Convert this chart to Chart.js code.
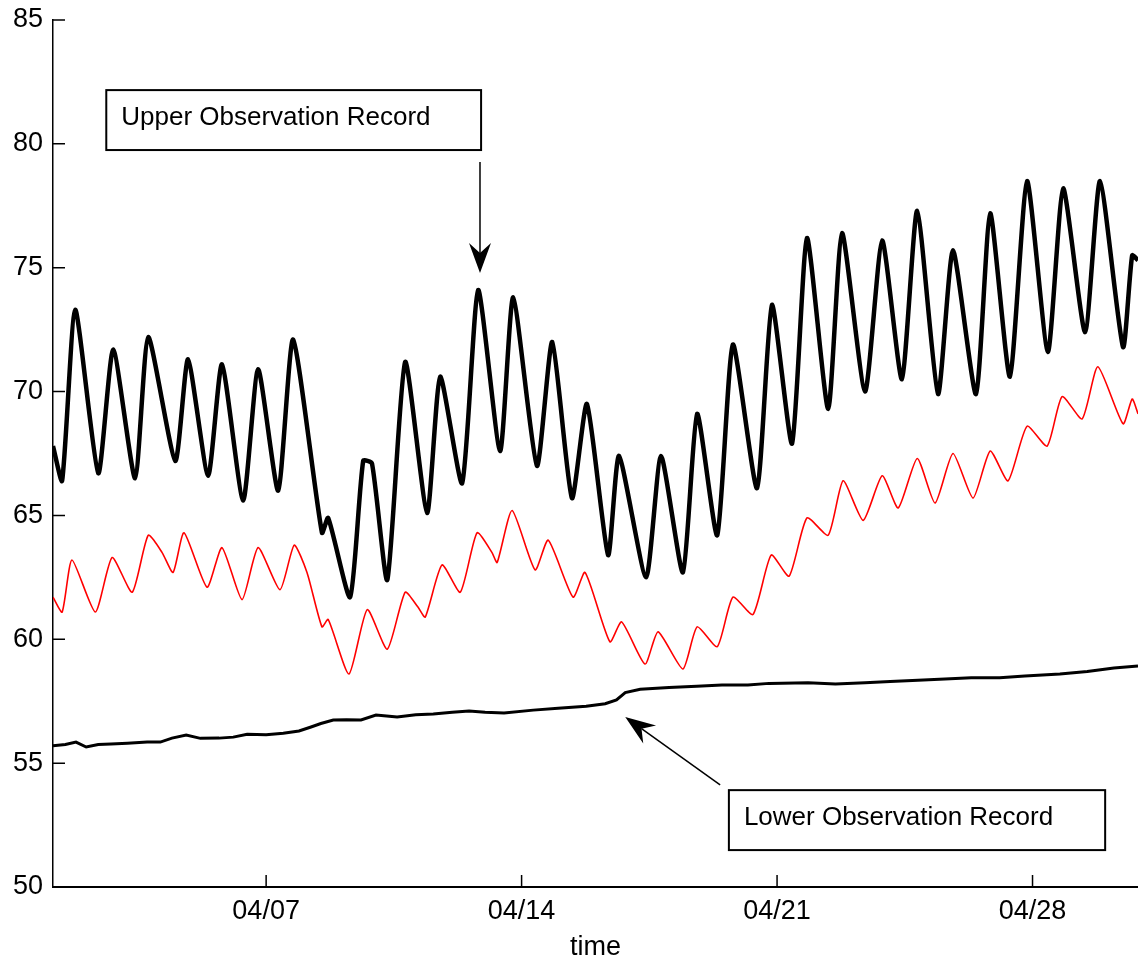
<!DOCTYPE html>
<html>
<head>
<meta charset="utf-8">
<script src="https://cdn.jsdelivr.net/npm/chart.js"></script>
<style>
  body { margin: 0; background: #fff; }
  #wrap { width: 1138px; height: 960px; }
</style>
</head>
<body>
<div id="wrap"><canvas id="myChart" width="1138" height="960"></canvas></div>
<script>
// x values are days of April
var upperDays = [1.16, 1.41, 1.77, 2.40, 2.81, 3.41, 3.77, 4.51, 4.86, 5.41, 5.79, 6.37, 6.78, 7.33, 7.74,
    8.53, 8.70, 9.30, 9.66, 9.90, 10.32, 10.81, 11.41, 11.77, 12.37, 12.81, 13.41, 13.77, 14.42, 14.84,
    15.38, 15.79, 16.37, 16.67, 17.41, 17.82, 18.42, 18.81, 19.36, 19.79, 20.45, 20.86, 21.41, 21.82, 22.40,
    22.78, 23.41, 23.88, 24.42, 24.84, 25.41, 25.82, 26.45, 26.84, 27.38, 27.85, 28.42, 28.84, 29.44, 29.85,
    30.48, 30.73, 30.89];
var upperTemp = [67.8, 66.4, 73.3, 66.7, 71.7, 66.5, 72.2, 67.2, 71.3, 66.6, 71.1, 65.6, 70.9, 66.0, 72.1,
    64.3, 64.9, 61.7, 67.2, 67.1, 62.4, 71.2, 65.1, 70.6, 66.3, 74.1, 67.6, 73.8, 67.0, 72.0,
    65.7, 69.5, 63.4, 67.4, 62.5, 67.4, 62.7, 69.1, 64.2, 71.9, 66.1, 73.5, 67.9, 76.2, 69.3,
    76.4, 70.0, 76.1, 70.5, 77.3, 69.9, 75.7, 69.9, 77.2, 70.6, 78.5, 71.6, 78.2, 72.4, 78.5,
    71.8, 75.5, 75.3];

var redDays = [1.16, 1.41, 1.68, 2.32, 2.78, 3.33, 3.77, 4.15, 4.45, 4.75, 5.38, 5.79, 6.34, 6.78, 7.38,
    7.77, 8.12, 8.53, 8.70, 9.27, 9.77, 10.32, 10.81, 11.16, 11.36, 11.82, 12.32, 12.78, 13.19, 13.33,
    13.74, 14.37, 14.73, 15.41, 15.74, 16.42, 16.74, 17.38, 17.74, 18.42, 18.81, 19.36, 19.79, 20.34, 20.84,
    21.33, 21.82, 22.40, 22.81, 23.36, 23.88, 24.32, 24.84, 25.33, 25.82, 26.37, 26.84, 27.33, 27.85, 28.40,
    28.81, 29.36, 29.79, 30.48, 30.73, 30.89];
var redTemp = [61.7, 61.1, 63.2, 61.1, 63.3, 61.9, 64.2, 63.5, 62.7, 64.3, 62.1, 63.7, 61.6, 63.7, 62.0,
    63.8, 62.7, 60.5, 60.8, 58.6, 61.2, 59.6, 61.9, 61.3, 60.9, 63.0, 61.9, 64.3, 63.5, 63.1,
    65.2, 62.8, 64.0, 61.7, 62.7, 59.9, 60.7, 59.0, 60.3, 58.8, 60.5, 59.7, 61.7, 61.0, 63.4,
    62.55, 64.9, 64.2, 66.4, 64.8, 66.6, 65.3, 67.3, 65.5, 67.5, 65.7, 67.6, 66.4, 68.6, 67.8,
    69.8, 68.9, 71.0, 68.7, 69.7, 69.1];

var lowerDays = [1.16, 1.5, 1.79, 2.07, 2.4, 2.75, 3.2, 3.74, 4.1, 4.42, 4.81, 5.2, 5.71, 6.1, 6.48,
    7.0, 7.47, 7.9, 8.23, 8.5, 8.84, 9.2, 9.6, 10.01, 10.3, 10.59, 11.1, 11.58, 12.1, 12.56,
    13.0, 13.52, 14.32, 15.0, 15.77, 16.29, 16.6, 16.84, 17.25, 18.04, 18.8, 19.49, 20.2, 20.78, 21.85,
    22.6, 23.41, 24.1, 24.86, 25.6, 26.32, 27.1, 27.79, 28.75, 29.5, 30.23, 30.89];
var lowerTemp = [55.7, 55.75, 55.85, 55.65, 55.75, 55.77, 55.8, 55.85, 55.85, 56.01, 56.13, 56.0, 56.01, 56.05, 56.17,
    56.15, 56.21, 56.3, 56.46, 56.6, 56.74, 56.75, 56.74, 56.94, 56.9, 56.86, 56.95, 56.98, 57.05, 57.10,
    57.05, 57.02, 57.14, 57.22, 57.30, 57.40, 57.55, 57.85, 57.98, 58.05, 58.1, 58.15, 58.15, 58.22, 58.25,
    58.2, 58.25, 58.3, 58.35, 58.4, 58.45, 58.45, 58.52, 58.6, 58.7, 58.84, 58.92];

var xTickDays = [7, 14, 21, 28];
var xTickLabels = ["04/07", "04/14", "04/21", "04/28"];
var yTicks = [50, 55, 60, 65, 70, 75, 80, 85];

var fontName = "'Liberation Sans', Arial, sans-serif";

function toPoints(xs, ys) {
    var pts = [];
    for (var i = 0; i < xs.length; i++) {
        pts.push({x: xs[i], y: ys[i]});
    }
    return pts;
}

// annotation boxes, placed in data coordinates
var notes = [
    {text: "Upper Observation Record", box: [2.62, 82.17, 12.89, 79.75], arrow: [12.86, 79.27, 12.86, 74.79]},
    {text: "Lower Observation Record", box: [19.68, 53.91, 29.99, 51.49], arrow: [19.44, 54.12, 16.84, 56.86]}
];

function drawArrow(ctx, x1, y1, x2, y2) {
    var ang = Math.atan2(y2 - y1, x2 - x1);
    var len = 30, half = 11, notch = 20;
    ctx.beginPath();
    ctx.moveTo(x1, y1);
    ctx.lineTo(x2 - Math.cos(ang) * notch, y2 - Math.sin(ang) * notch);
    ctx.stroke();
    var bx = x2 - Math.cos(ang) * len, by = y2 - Math.sin(ang) * len;
    var nx = -Math.sin(ang), ny = Math.cos(ang);
    ctx.beginPath();
    ctx.moveTo(x2, y2);
    ctx.lineTo(bx + nx * half, by + ny * half);
    ctx.lineTo(x2 - Math.cos(ang) * notch, y2 - Math.sin(ang) * notch);
    ctx.lineTo(bx - nx * half, by - ny * half);
    ctx.closePath();
    ctx.fill();
}

var extras = {
    id: 'extras',
    afterDraw: function(chart) {
        var ctx = chart.ctx;
        var xs = chart.scales.x, ys = chart.scales.y;
        var area = chart.chartArea;
        ctx.save();
        ctx.strokeStyle = '#000';
        ctx.fillStyle = '#000';
        ctx.lineWidth = 1.5;
        // inward tick marks
        ctx.beginPath();
        for (var v of yTicks) {
            var py = ys.getPixelForValue(v);
            ctx.moveTo(area.left, py);
            ctx.lineTo(area.left + 12, py);
        }
        for (var d of xTickDays) {
            var px = xs.getPixelForValue(d);
            ctx.moveTo(px, area.bottom);
            ctx.lineTo(px, area.bottom - 12);
        }
        ctx.stroke();

        for (var n of notes) {
            var l = xs.getPixelForValue(n.box[0]), t = ys.getPixelForValue(n.box[1]);
            var r = xs.getPixelForValue(n.box[2]), b = ys.getPixelForValue(n.box[3]);
            ctx.fillStyle = '#fff';
            ctx.fillRect(l, t, r - l, b - t);
            ctx.lineWidth = 2;
            ctx.strokeRect(l, t, r - l, b - t);
            ctx.fillStyle = '#000';
            ctx.font = "26px " + fontName;
            ctx.textBaseline = 'alphabetic';
            ctx.textAlign = 'left';
            ctx.fillText(n.text, l + 15, t + 35);
            ctx.lineWidth = 1.5;
            drawArrow(ctx, xs.getPixelForValue(n.arrow[0]), ys.getPixelForValue(n.arrow[1]),
                xs.getPixelForValue(n.arrow[2]), ys.getPixelForValue(n.arrow[3]));
        }
        ctx.restore();
    }
};

var ctx = document.getElementById("myChart").getContext('2d');
var tempChart = new Chart(ctx, {
    type: 'line',
    data: {
        datasets: [
            {
                label: 'Upper Observation Record',
                data: toPoints(upperDays, upperTemp),
                borderColor: '#000000',
                borderWidth: 4.5,
                borderJoinStyle: 'round',
                pointRadius: 0,
                tension: 0.2,
                fill: false
            },
            {
                label: 'Middle',
                data: toPoints(redDays, redTemp),
                borderColor: '#ff0000',
                borderWidth: 1.6,
                borderJoinStyle: 'round',
                pointRadius: 0,
                tension: 0.2,
                fill: false
            },
            {
                label: 'Lower Observation Record',
                data: toPoints(lowerDays, lowerTemp),
                borderColor: '#000000',
                borderWidth: 3,
                pointRadius: 0,
                tension: 0,
                fill: false
            }
        ]
    },
    options: {
        responsive: false,
        animation: false,
        layout: { padding: { top: 20, right: 0, left: 0, bottom: 0 } },
        plugins: { legend: { display: false }, tooltip: { enabled: false } },
        scales: {
            x: {
                type: 'linear',
                min: 1.16,
                max: 30.89,
                grid: { display: false, drawTicks: false },
                border: { color: '#000', width: 2 },
                afterBuildTicks: function(scale) {
                    scale.ticks = xTickDays.map(function(d) { return {value: d}; });
                },
                ticks: {
                    autoSkip: false,
                    maxRotation: 0,
                    color: '#000',
                    padding: 8,
                    font: { family: fontName, size: 27 },
                    callback: function(value) {
                        return xTickLabels[xTickDays.indexOf(value)];
                    }
                },
                title: {
                    display: true,
                    text: 'time',
                    color: '#000',
                    font: { family: fontName, size: 27 },
                    padding: { top: 0, bottom: -4 }
                },
                afterFit: function(scale) {
                    scale.height = 73;
                    scale.paddingLeft = 0;
                    scale.paddingRight = 0;
                }
            },
            y: {
                min: 50,
                max: 85,
                grid: { display: false, drawTicks: false },
                border: { color: '#000', width: 1.5 },
                afterBuildTicks: function(scale) {
                    scale.ticks = yTicks.map(function(v) { return {value: v}; });
                },
                ticks: {
                    color: '#000',
                    padding: 10,
                    font: { family: fontName, size: 27 }
                },
                afterFit: function(scale) {
                    scale.width = 53;
                    scale.paddingTop = 0;
                    scale.paddingBottom = 0;
                }
            }
        }
    },
    plugins: [extras]
});
</script>
</body>
</html>
